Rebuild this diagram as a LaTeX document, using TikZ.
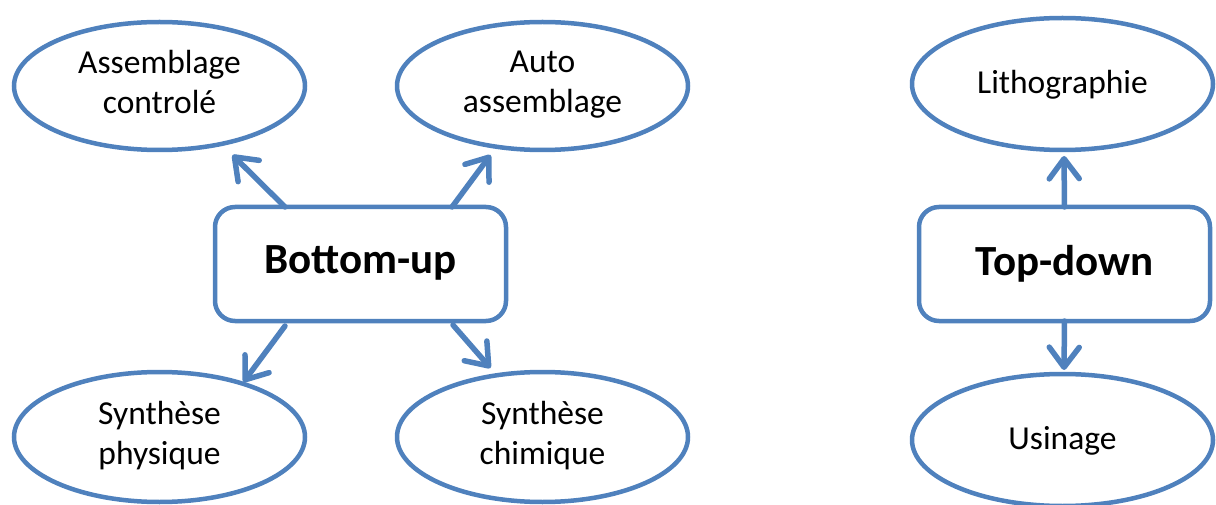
\documentclass[tikz,border=0pt]{standalone}
\usepackage{fontspec}
\setmainfont{Carlito}
\usetikzlibrary{shapes.geometric,arrows.meta,calc}
\definecolor{officeblue}{HTML}{4F81BD}
% line struts that fix where the baselines sit inside each shape
\newcommand{\strutpair}{\rule[-9pt]{0pt}{28pt}}
\newcommand{\strutsingle}{\rule[-6pt]{0pt}{31pt}}
\newcommand{\strutbold}{\rule[-8pt]{0pt}{35pt}}
\tikzset{
  leaf/.style={ellipse, draw=officeblue, line width=4.5pt, fill=white,
    inner sep=0pt, outer sep=0pt, align=center,
    font=\fontsize{33.5pt}{40pt}\selectfont},
  hub/.style={rectangle, rounded corners=20pt, draw=officeblue, line width=4.5pt,
    fill=white, inner sep=0pt, outer sep=0pt, minimum width=291pt, minimum height=114pt,
    font=\fontsize{43pt}{50pt}\selectfont\bfseries},
  link/.style={draw=officeblue, line width=5.5pt, line cap=round,
    -{Straight Barb[length=20pt, width=30pt, line cap=round, line join=round]}},
}
\begin{document}
\begin{tikzpicture}[x=1pt, y=-1pt]
\useasboundingbox (0,0) rectangle (1216,505);
% bottom-up approach
\node[hub] (bu) at (360.5,264) {\strutbold Bottom-up};
\node[leaf, minimum width=291pt, minimum height=128pt] (ac) at (159.5,86) {\strutpair Assemblage\\\strutpair controlé};
\node[leaf, minimum width=291pt, minimum height=128pt] (aa) at (542.5,86) {\strutpair Auto\\\strutpair assemblage};
\node[leaf, minimum width=291pt, minimum height=130pt] (sp) at (159.5,437) {\strutpair Synthèse\\\strutpair physique};
\node[leaf, minimum width=291pt, minimum height=130pt] (sc) at (542.5,437) {\strutpair Synthèse\\\strutpair chimique};
% top-down approach
\node[hub] (td) at (1064.5,264) {\strutbold Top-down};
\node[leaf, minimum width=301pt, minimum height=132pt] (li) at (1062.5,84) {\strutsingle Lithographie};
\node[leaf, minimum width=301pt, minimum height=132pt] (us) at (1062.5,440) {\strutsingle Usinage};
% connectors
\draw[link] ($(bu.north west)+(70,0)$) -- ($(ac.center)+(73,69)$);
\draw[link] ($(bu.north west)+(237,0)$) -- ($(aa.center)+(-52,69)$);
\draw[link] ($(bu.south west)+(70,5)$) -- ($(sp.center)+(84,-55)$);
\draw[link] ($(bu.south west)+(238,4)$) -- ($(sc.center)+(-52,-69)$);
\draw[link] (td.north) -- ($(li.center)+(1.5,72)$);
\draw[link] (td.south) -- ($(us.center)+(1.5,-70)$);
\end{tikzpicture}
\end{document}
